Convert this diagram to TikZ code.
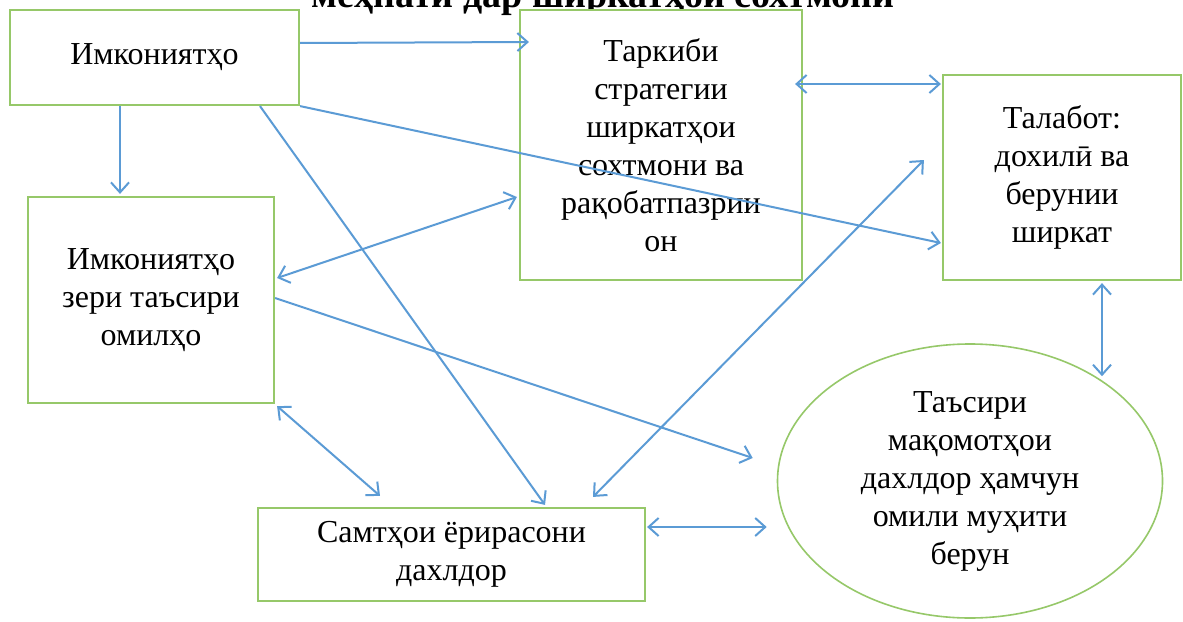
\documentclass[tikz,border=0pt]{standalone}
\usepackage{fontspec}
\setmainfont{Liberation Serif}
\usetikzlibrary{arrows.meta,calc,shapes.geometric}
\definecolor{boxgreen}{RGB}{150,200,105}
\definecolor{arrblue}{RGB}{91,155,213}
\tikzset{
  sbox/.style={draw=boxgreen,line width=1.1pt,fill=white,align=center,inner sep=2pt,
    font=\fontsize{16}{19}\selectfont},
  sellip/.style={sbox,ellipse,inner sep=0pt,line width=0.8pt},
  onearr/.style={-{Straight Barb[length=5pt,width=9pt]},line width=1pt,draw=arrblue},
  twoarr/.style={onearr,{Straight Barb[length=5pt,width=9pt]}-{Straight Barb[length=5pt,width=9pt]}}
}
\begin{document}
\begin{tikzpicture}[x=0.5pt,y=-0.5pt]
  \fill[white] (0,0) rectangle (1183,621);
  \clip (0,0) rectangle (1183,621);
  \node[font=\bfseries\fontsize{19}{22}\selectfont,anchor=base] (titl) at (603,7) {меҳнати дар ширкатҳои сохтмонӣ};
  \node[sbox,minimum width=144.5pt,minimum height=47.5pt] (imk) at (154.5,57.5) {Имкониятҳо};
  \node[sbox,minimum width=141pt,minimum height=135pt] (tark) at (661,145) {Таркиби\\стратегии\\ширкатҳои\\сохтмони ва\\рақобатпазрии\\он};
  \node[sbox,minimum width=119pt,minimum height=102.5pt] (talab) at (1062,177.5) {Талабот:\\дохилӣ ва\\берунии\\ширкат};
  \node[sbox,minimum width=123pt,minimum height=103pt] (imkz) at (151,300) {Имкониятҳо\\зери таъсири\\омилҳо};
  \node[sellip,minimum width=192.5pt,minimum height=137pt] (tasir) at (970,481) {Таъсири\\мақомотҳои\\дахлдор ҳамчун\\омили муҳити\\берун};
  \node[sbox,minimum width=193.5pt,minimum height=46.5pt] (samt) at (451.5,554.5) {Самтҳои ёрирасони\\дахлдор};
  % connectors
  \draw[onearr] ($(imk.east)+(0,-14.5)$) -- ($(tark.west)+(10,-103)$);
  \draw[twoarr] ($(tark.east)+(-8,-61)$) -- ($(talab.west)+(-1,-93.5)$);
  \draw[onearr] ($(imk.south)+(-34.5,0)$) -- ($(imkz.north)+(-31,-2)$);
  \draw[onearr] ($(imk.south)+(105.5,0)$) -- ($(samt.north)+(93.5,-2)$);
  \draw[onearr] (imk.south east) -- ($(talab.west)+(-1,65.5)$);
  \draw[twoarr] ($(imkz.east)+(2,-22)$) -- ($(tark.west)+(-2,52)$);
  \draw[onearr] ($(imkz.east)+(0,-2)$) -- ($(tasir.west)+(-24,-23)$);
  \draw[twoarr] ($(imkz.south east)+(2,2)$) -- ($(samt.north)+(-71.5,-11)$);
  \draw[twoarr] ($(samt.north)+(141.5,-10)$) -- ($(talab.west)+(-18,-17.5)$);
  \draw[twoarr] ($(samt.east)+(1,-27.5)$) -- ($(tasir.west)+(-10,46)$);
  \draw[twoarr] ($(talab.south)+(40,2)$) -- ($(tasir.north)+(132,33)$);
\end{tikzpicture}
\end{document}
